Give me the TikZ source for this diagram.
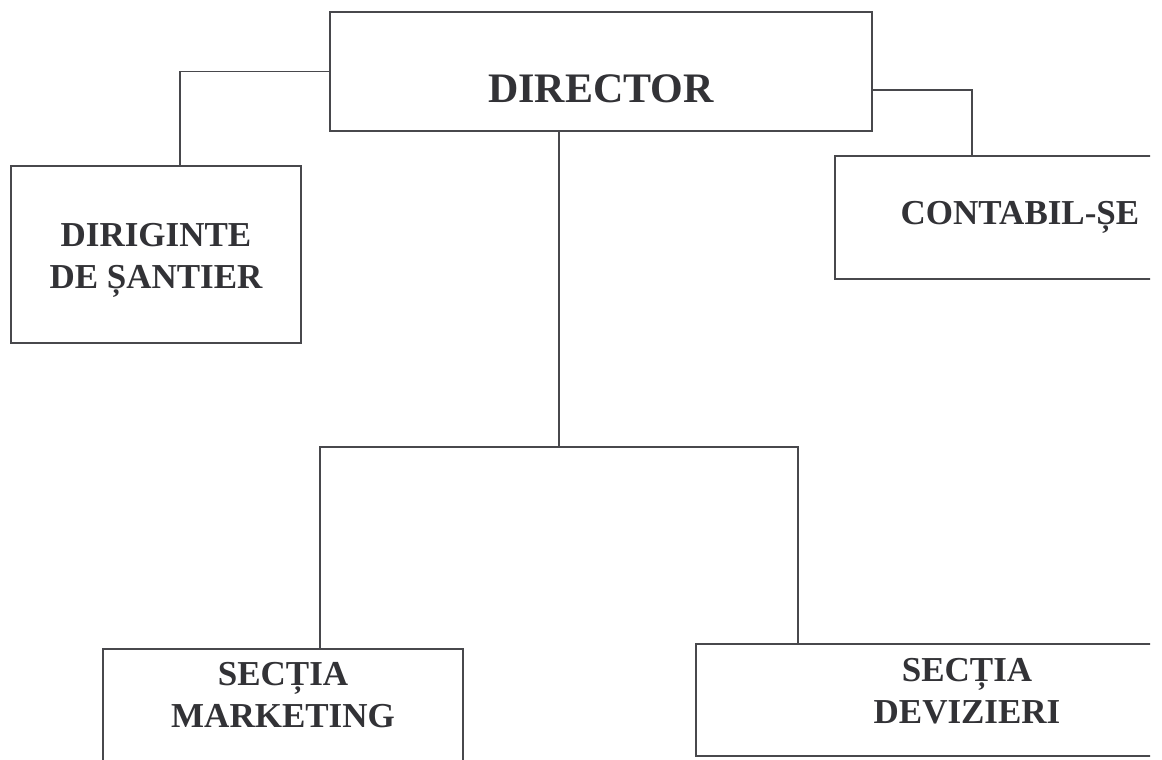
\documentclass[tikz,border=0pt]{standalone}
\usepackage{fontspec}
\setmainfont{Liberation Serif}
\usepackage{tikz}
\definecolor{ScanInk}{RGB}{50,50,54}
\definecolor{ScanLine}{RGB}{72,72,76}

\begin{document}
\begin{tikzpicture}[x=1pt, y=-1pt,
    unit/.style={shape=rectangle, draw=ScanLine, line width=1.4pt, inner sep=0pt},
    lbl/.style={text=ScanInk, align=center, font=\bfseries\fontsize{35}{42}\selectfont},
    wire/.style={draw=ScanLine, line width=1.4pt}]
    \useasboundingbox[fill=white] (0,0) rectangle (1162,760);
    \begin{scope}
    \clip (0,0) rectangle (1150,760);
    \node[unit, minimum width=542, minimum height=119,
          label={[lbl, font=\bfseries\fontsize{42}{50}\selectfont, yshift=-17.5]center:DIRECTOR}] (dir) at (601,71.5) {};
    \node[unit, minimum width=290, minimum height=177,
          label={[lbl, yshift=-6]center:DIRIGINTE\\DE ȘANTIER}] (dirig) at (156,254.5) {};
    \node[unit, minimum width=370, minimum height=123,
          label={[lbl]center:CONTABIL-ȘE}] (cont) at (1020,217.5) {};
    \node[unit, minimum width=360, minimum height=180,
          label={[lbl, yshift=44]center:SECȚIA\\MARKETING}] (mark) at (283,739) {};
    \node[unit, minimum width=518, minimum height=112,
          label={[lbl, xshift=12, yshift=9]center:SECȚIA\\DEVIZIERI}] (dev) at (955,700) {};
    \coordinate (bus) at (559,447);
    % links
    \path[wire] (dir.west) -| ([xshift=24]dirig.north);
    \path[wire] ([yshift=-18.5]dir.east) -| ([xshift=-48]cont.north);
    \path[wire] ([xshift=-42]dir.south) -- (bus);
    \path[wire] ([xshift=37]mark.north) |- (bus) -| ([xshift=-157]dev.north);
    \end{scope}
\end{tikzpicture}
\end{document}
